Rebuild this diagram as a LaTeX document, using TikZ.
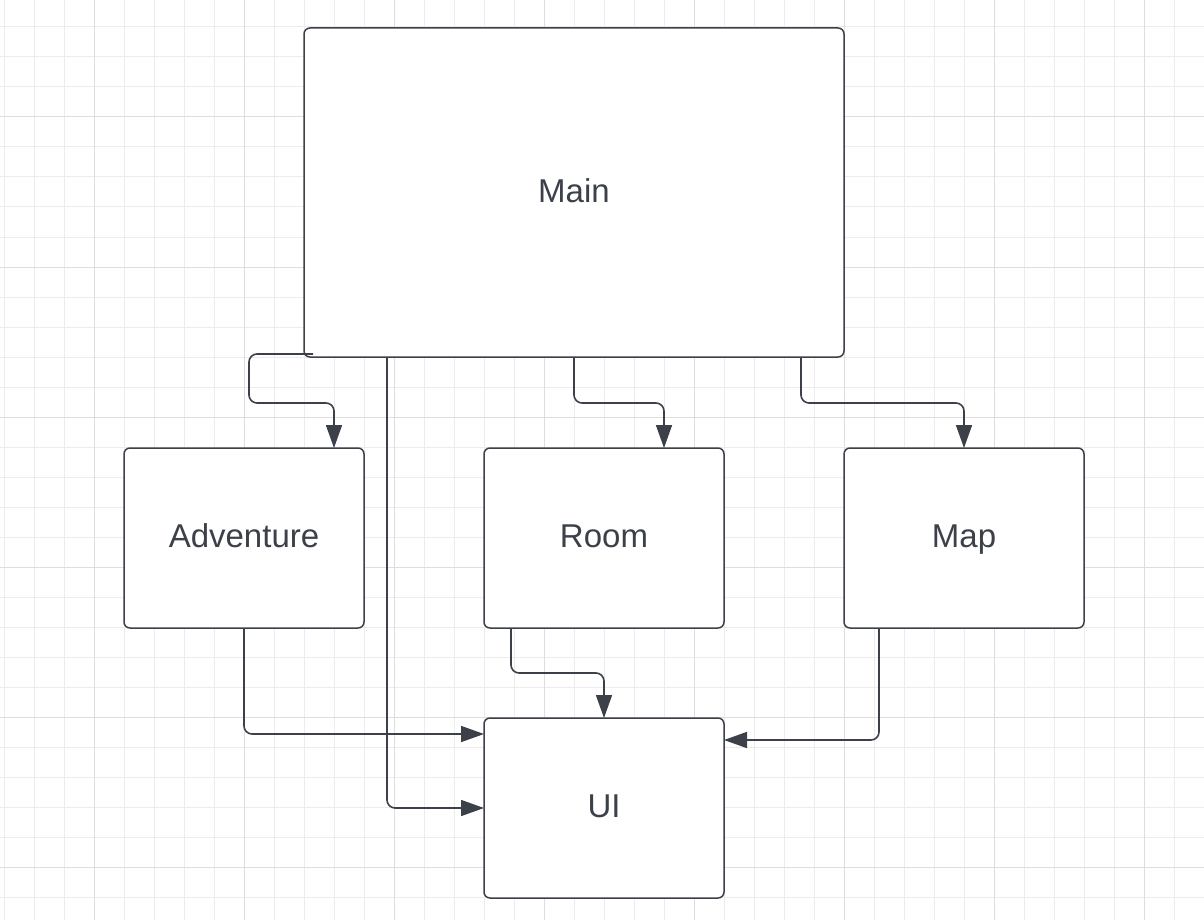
\documentclass[tikz,border=0pt]{standalone}
\usepackage{fontspec}
\setmainfont{Liberation Sans}
\usetikzlibrary{arrows.meta,calc}
\definecolor{dk}{RGB}{60,64,72}
\definecolor{minorgrid}{RGB}{236,236,236}
\definecolor{majorgrid}{RGB}{222,222,222}
\tikzset{
  box/.style={draw=dk, line width=1.5pt, rounded corners=6pt, fill=white, inner sep=0pt, outer sep=0pt,
    text=dk, font=\fontsize{33}{38}\selectfont, text height=23.6pt, text depth=4.4pt},
  conn/.style={draw=dk, line width=1.6pt, rounded corners=8pt, -{Triangle[length=23pt,width=16pt]}}
}
\begin{document}
\begin{tikzpicture}[x=1pt,y=-1pt]
\useasboundingbox (0,0) rectangle (1204,920);
\fill[white] (0,0) rectangle (1204,920);
% grid
\foreach \x in {4,34,...,1204} \draw[minorgrid, line width=1pt] (\x,0) -- (\x,920);
\foreach \y in {-3,27,...,920} \draw[minorgrid, line width=1pt] (0,\y) -- (1204,\y);
\foreach \x in {94,244,...,1144} \draw[majorgrid, line width=1pt] (\x,0) -- (\x,920);
\foreach \y in {117,267,...,867} \draw[majorgrid, line width=1pt] (0,\y) -- (1204,\y);
% boxes
\node[box, minimum width=540pt, minimum height=329pt] (main) at (574,192.5) {Main};
\node[box, minimum width=240pt, minimum height=180pt] (adv) at (244,538) {Adventure};
\node[box, minimum width=240pt, minimum height=180pt] (room) at (604,538) {Room};
\node[box, minimum width=240pt, minimum height=180pt] (map) at (964,538) {Map};
\node[box, minimum width=240pt, minimum height=180pt] (ui) at (604,808) {UI};
% connectors
\draw[conn] ($(main.south west)+(9,-3)$) -- ($(main.south west)+(-55,-3)$) -- ($(main.south west)+(-55,46)$) -- ($(adv.north)+(90,46-91)$) -- ($(adv.north)+(90,0)$);
\draw[conn] ($(main.south west)+(83,0)$) |- (ui.west);
\draw[conn] (main.south) -- ($(main.south)+(0,46)$) -- ($(room.north)+(60,-45)$) -- ($(room.north)+(60,0)$);
\draw[conn] ($(main.south)+(227,0)$) -- ($(main.south)+(227,46)$) -- ($(map.north)+(0,-45)$) -- (map.north);
\draw[conn] (adv.south) |- ($(ui.north west)+(0,16)$);
\draw[conn] ($(room.south)+(-93,0)$) -- ($(room.south)+(-93,45)$) -- ($(ui.north)+(0,-45)$) -- (ui.north);
\draw[conn] ($(map.south)+(-85,0)$) |- ($(ui.north east)+(0,22)$);
\end{tikzpicture}
\end{document}
